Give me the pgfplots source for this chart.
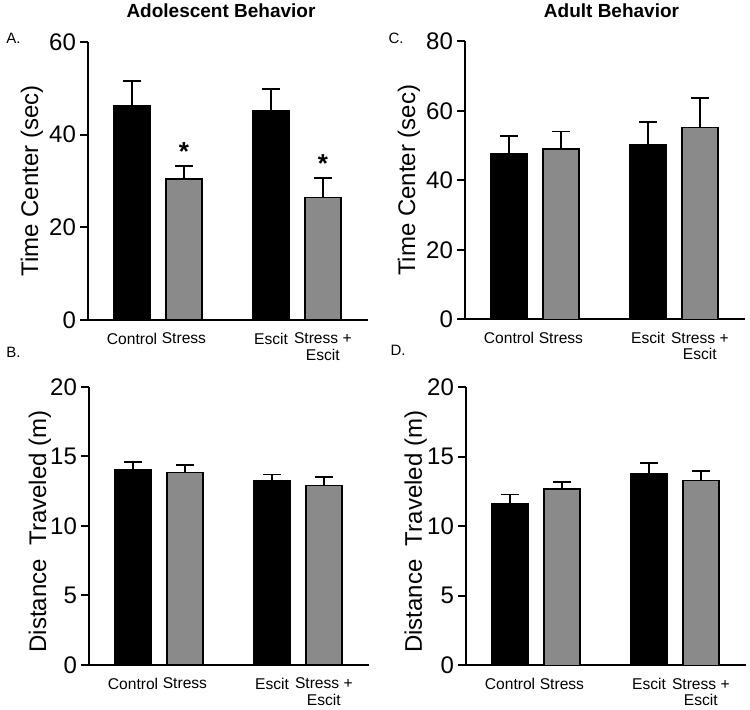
\documentclass[border=0pt]{standalone}
\usepackage{fontspec}
\setmainfont{Liberation Sans}
\usepackage{pgfplots}
\pgfplotsset{compat=1.18}

\definecolor{bargray}{HTML}{8A8A8A}

\pgfplotsset{
  panel/.style={
    scale only axis, width=140pt, height=139pt,
    axis x line=bottom, axis y line=left,
    axis line style={-, line width=1pt},
    xmin=-0.85, xmax=4.55, ymin=0,
    xtick={0,1,2.68,3.68},
    xticklabels={Control,Stress,Escit,{Stress +\\Escit}},
    xticklabel style={align=center, font=\fontsize{7.8}{8.2}\selectfont, yshift=1pt},
    x tick style={draw=none},
    y tick style={line width=1pt, black},
    tick align=outside, major tick length=4pt,
    yticklabel style={font=\fontsize{12}{14}\selectfont, xshift=1.5pt},
    ylabel style={font=\fontsize{12}{14}\selectfont, anchor=center},
    /pgf/number format/assume math mode=true,
    enlargelimits=false, clip=false,
  },
  blackbar/.style={ybar, bar width=18pt, bar shift=0pt, fill=black, draw=black, line width=0.75pt,
    error bars/.cd, y dir=plus, y explicit,
    error bar style={line width=0.9pt, black},
    error mark options={rotate=90, mark size=4.5pt, line width=0.9pt, black}},
  graybar/.style={ybar, bar width=18pt, bar shift=0pt, fill=bargray, draw=black, line width=0.75pt,
    error bars/.cd, y dir=plus, y explicit,
    error bar style={line width=0.9pt, black},
    error mark options={rotate=90, mark size=4.5pt, line width=0.9pt, black}},
}

\begin{document}
\begin{tikzpicture}
\path[use as bounding box] (0,0) rectangle (375pt,355pt);

% titles and panel letters
\node[font=\bfseries\fontsize{9.5}{11}\selectfont] at (110.5pt,349.5pt) {Adolescent Behavior};
\node[font=\bfseries\fontsize{9.5}{11}\selectfont] at (305.75pt,349.5pt) {Adult Behavior};
\node[font=\fontsize{7.5}{9}\selectfont] at (6.75pt,336pt) {A.};
\node[font=\fontsize{7.5}{9}\selectfont] at (198pt,336pt) {C.};
\node[font=\fontsize{7.5}{9}\selectfont] at (6.75pt,179pt) {B.};
\node[font=\fontsize{7.5}{9}\selectfont] at (199pt,180pt) {D.};

% A. adolescent time center
\begin{axis}[panel, at={(44pt,195pt)}, anchor=south west,
    ymax=60, ytick={0,20,40,60},
    ylabel={Time Center (sec)},
    ylabel style={at={(axis description cs:-0.2,0.5)}}]
  \addplot[blackbar] coordinates {(0,46.2) +- (0,5.4) (2.68,45.2) +- (0,4.7)};
  \addplot[graybar] coordinates {(1,30.4) +- (0,2.9) (3.68,26.4) +- (0,4.2)};
  \node[font=\bfseries\fontsize{13}{14}\selectfont] at (axis cs:1,36.3) {*};
  \node[font=\bfseries\fontsize{13}{14}\selectfont] at (axis cs:3.68,33.8) {*};
\end{axis}

% C. adult time center
\begin{axis}[panel, at={(232.5pt,195.3pt)}, anchor=south west,
    ymax=80, ytick={0,20,40,60,80},
    ylabel={Time Center (sec)},
    ylabel style={at={(axis description cs:-0.2,0.5)}}]
  \addplot[blackbar] coordinates {(0,47.7) +- (0,5.1) (2.68,50.4) +- (0,6.3)};
  \addplot[graybar] coordinates {(1,49.1) +- (0,5.0) (3.68,55.2) +- (0,8.5)};
\end{axis}

% B. adolescent distance
\begin{axis}[panel, at={(44.5pt,22.5pt)}, anchor=south west,
    ymax=20, ytick={0,5,10,15,20},
    ylabel={Distance\ \ Traveled (m)},
    ylabel style={at={(axis description cs:-0.175,0.48)}}]
  \addplot[blackbar] coordinates {(0,14.05) +- (0,0.55) (2.68,13.25) +- (0,0.45)};
  \addplot[graybar] coordinates {(1,13.85) +- (0,0.55) (3.68,12.9) +- (0,0.6)};
\end{axis}

% D. adult distance
\begin{axis}[panel, at={(233pt,22.35pt)}, anchor=south west,
    ymax=20, ytick={0,5,10,15,20},
    ylabel={Distance\ \ Traveled (m)},
    ylabel style={at={(axis description cs:-0.18,0.48)}}]
  \addplot[blackbar] coordinates {(0,11.65) +- (0,0.63) (2.68,13.76) +- (0,0.82)};
  \addplot[graybar] coordinates {(1,12.69) +- (0,0.48) (3.68,13.29) +- (0,0.71)};
\end{axis}
\end{tikzpicture}
\end{document}
